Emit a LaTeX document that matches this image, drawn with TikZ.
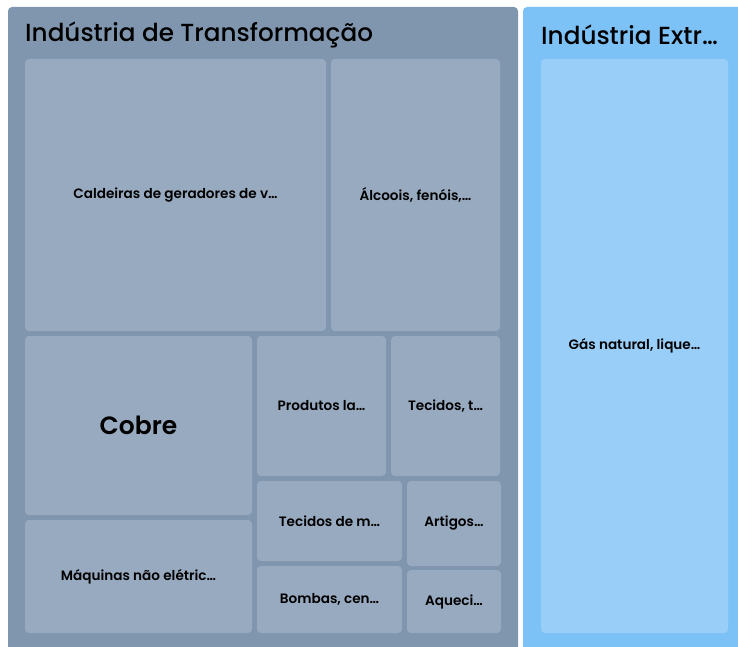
\documentclass[tikz,border=0pt]{standalone}
\usepackage{fontspec}
\setmainfont{Poppins}[BoldFont={Poppins SemiBold}]
\newfontfamily\titlefont{Poppins Medium}
\usetikzlibrary{calc}
\definecolor{slateouter}{RGB}{128,150,174}
\definecolor{slatetile}{RGB}{152,170,191}
\definecolor{skyouter}{RGB}{125,194,246}
\definecolor{skytile}{RGB}{153,206,248}
\tikzset{
	tile/.style={fill=slatetile, rounded corners=4pt, inner sep=0pt, align=center,
		font=\bfseries\fontsize{13.6}{15}\selectfont},
	grouptitle/.style={anchor=west, inner sep=0pt, font=\titlefont\fontsize{24.7}{27}\selectfont},
}
% tile from (x1,y1) to (x2,y2), name, text
\def\tile[#1](#2,#3)(#4,#5)#6#7{\node[tile,#1, minimum width={(#4-#2)*1pt}, minimum height={(#5-#3)*1pt}] (#6) at ({(#2+#4)/2},{(#3+#5)/2}) {#7};}

\begin{document}
\begin{tikzpicture}[x=1pt, y=-1pt]
		%%%%% FRAME %%%%%
		\useasboundingbox (0, 0) rectangle (738, 647);
		\fill[white] (0, 0) rectangle (738, 647);
		\clip (0, 0) rectangle (738, 647);
		
		%%%%% GROUPS %%%%%
		\draw[fill=slateouter, draw=none, rounded corners=4pt] (8, 7) rectangle (518, 655);
		\draw[fill=skyouter, draw=none, rounded corners=4pt] (523, 7) rectangle (745, 655);
		
		\node[grouptitle] (transf) at (25, 35) {Indústria de Transformação};
		\node[grouptitle] (extr) at (541, 35) {Indústria Extr…};
		
		%%%%% TILES %%%%%
		\tile[](25, 59)(326, 331){caldeiras}{Caldeiras de geradores de v…}
		\tile[](331, 59)(500, 331){alcoois}{Álcoois, fenóis,…}
		\tile[font=\bfseries\fontsize{25}{30}\selectfont](25, 336)(252, 515){cobre}{Cobre}
		\tile[](25, 520)(252, 633){maquinas}{Máquinas não elétric…}
		\tile[](257, 336)(386, 476){produtos}{Produtos la…}
		\tile[](391, 336)(500, 476){tecidost}{Tecidos, t…}
		\tile[](257, 481)(402, 561){tecidosm}{Tecidos de m…}
		\tile[](407, 481)(501, 566){artigos}{Artigos…}
		\tile[](257, 566)(402, 633){bombas}{Bombas, cen…}
		\tile[](407, 570)(501, 633){aqueci}{Aqueci…}
		
		\tile[fill=skytile](541, 59)(728, 633){gas}{Gás natural, lique…}
		
		%%%%% END %%%%%
\end{tikzpicture}
\end{document}
